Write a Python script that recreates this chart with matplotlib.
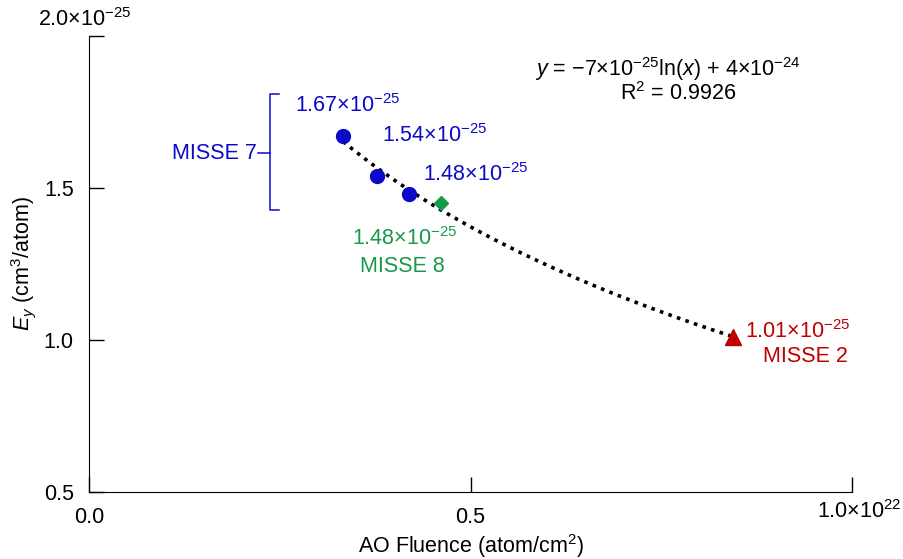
import numpy as np
import matplotlib
matplotlib.use("Agg")
import matplotlib.pyplot as plt

plt.rcParams['font.family'] = ['Liberation Sans', 'DejaVu Sans']
plt.rcParams['mathtext.fontset'] = 'custom'
plt.rcParams['mathtext.rm'] = 'Liberation Sans'
plt.rcParams['mathtext.it'] = 'Liberation Sans:italic'

# data (fluence in atom/cm2, Ey in cm3/atom)
m7_fluence = [3.33e21, 3.78e21, 4.20e21]
m7_ey = [1.67e-25, 1.54e-25, 1.48e-25]
m8_fluence = [4.61e21]
m8_ey = [1.45e-25]
m2_fluence = [8.44e21]
m2_ey = [1.01e-25]
m7_labels = ["1.67", "1.54", "1.48"]
m8_label = "1.48"
m2_label = "1.01"

XS = 1e22
YS = 1e-25
blue = '#0a0ac8'
green = '#17994a'
red = '#c00000'
MINUS = "\u2212"
TIMES = "\u00d7"


def sup(t):
    return "$^{\\mathregular{" + t + "}}$"


def lab(v):
    return v + TIMES + "10" + sup(MINUS + "25")


fig = plt.figure(figsize=(9.04, 5.59), dpi=100)
ax = fig.add_axes([0.0985, 0.1199, 0.8440, 0.8157])

# log trend line through all points
allx = np.array(m7_fluence + m8_fluence + m2_fluence)
ally = np.array(m7_ey + m8_ey + m2_ey)
a, b = np.polyfit(np.log(allx), ally, 1)
xf = np.linspace(allx.min(), allx.max(), 200)
ax.plot(xf / XS, (a * np.log(xf) + b) / YS, color='black', linestyle=(0, (1, 1.5)), lw=2.6, zorder=2)

ax.plot(np.array(m7_fluence) / XS, np.array(m7_ey) / YS, 'o', color=blue, ms=10, zorder=3)
ax.plot(np.array(m8_fluence) / XS, np.array(m8_ey) / YS, 'D', color=green, ms=7, zorder=3)
ax.plot(np.array(m2_fluence) / XS, np.array(m2_ey) / YS, '^', color=red, ms=11, zorder=3)

fs = 15.5


def note(txt, x, y, dx, dy, color, ha='left'):
    ax.annotate(txt, (x / XS, y / YS), xytext=(dx, dy), textcoords='offset pixels',
                color=color, fontsize=fs, ha=ha, va='center')


# MISSE 7 labels
offs = [(-48, 31), (5, 40), (14, 20)]
for x, y, t, (dx, dy) in zip(m7_fluence, m7_ey, m7_labels, offs):
    note(lab(t), x, y, dx, dy, blue)

note(lab(m8_label), m8_fluence[0], m8_ey[0], -36, -35, green, ha='center')
note("MISSE 8", m8_fluence[0], m8_ey[0], -38, -63, green, ha='center')
note(lab(m2_label), m2_fluence[0], m2_ey[0], 12, 5, red)
note("MISSE 2", m2_fluence[0], m2_ey[0], 72, -20, red, ha='center')

# bracket for MISSE 7
bx = 0.2375
ax.plot([bx + 0.012, bx, bx, bx + 0.012], [1.81, 1.81, 1.427, 1.427], color=blue, lw=1.1, clip_on=False)
ax.plot([bx - 0.016, bx], [1.615, 1.615], color=blue, lw=1.1, clip_on=False)
ax.text(bx - 0.018, 1.615, "MISSE 7", color=blue, fontsize=fs, ha='right', va='center')

# equation
eq = ("$y$ = " + MINUS + "7" + TIMES + "10" + sup(MINUS + "25") + "ln($x$) + 4" + TIMES + "10" + sup(MINUS + "24"))
ax.text(0.7585, 1.89, eq, fontsize=fs, ha='center', va='center')
ax.text(0.772, 1.812, "R" + sup("2") + " = 0.9926", fontsize=fs, ha='center', va='center')

ax.set_xlim(0, 1.0)
ax.set_ylim(0.5, 2.0)
ax.set_xticks([0.0, 0.5, 1.0])
ax.set_xticklabels(["0.0", "0.5", ""])
ax.set_yticks([0.5, 1.0, 1.5, 2.0])
ax.set_yticklabels(["0.5", "1.0", "1.5", ""])
ax.tick_params(direction='in', length=10.5, width=1, labelsize=fs, pad=11)
ax.spines['top'].set_visible(False)
ax.spines['right'].set_visible(False)

ax.text(0.954, 0.474, "1.0" + TIMES + "10" + sup("22"), fontsize=fs, ha='left', va='top', clip_on=False)
fig.text(38 / 904, 1 - 20 / 559, "2.0" + TIMES + "10" + sup(MINUS + "25"), fontsize=fs, ha='left', va='center')

ax.set_xlabel("AO Fluence (atom/cm" + sup("2") + ")", fontsize=fs, labelpad=2.5)
ax.set_ylabel("$E_y$ (cm" + sup("3") + "/atom)", fontsize=fs, labelpad=4)

fig.savefig("out.png", dpi=100)
